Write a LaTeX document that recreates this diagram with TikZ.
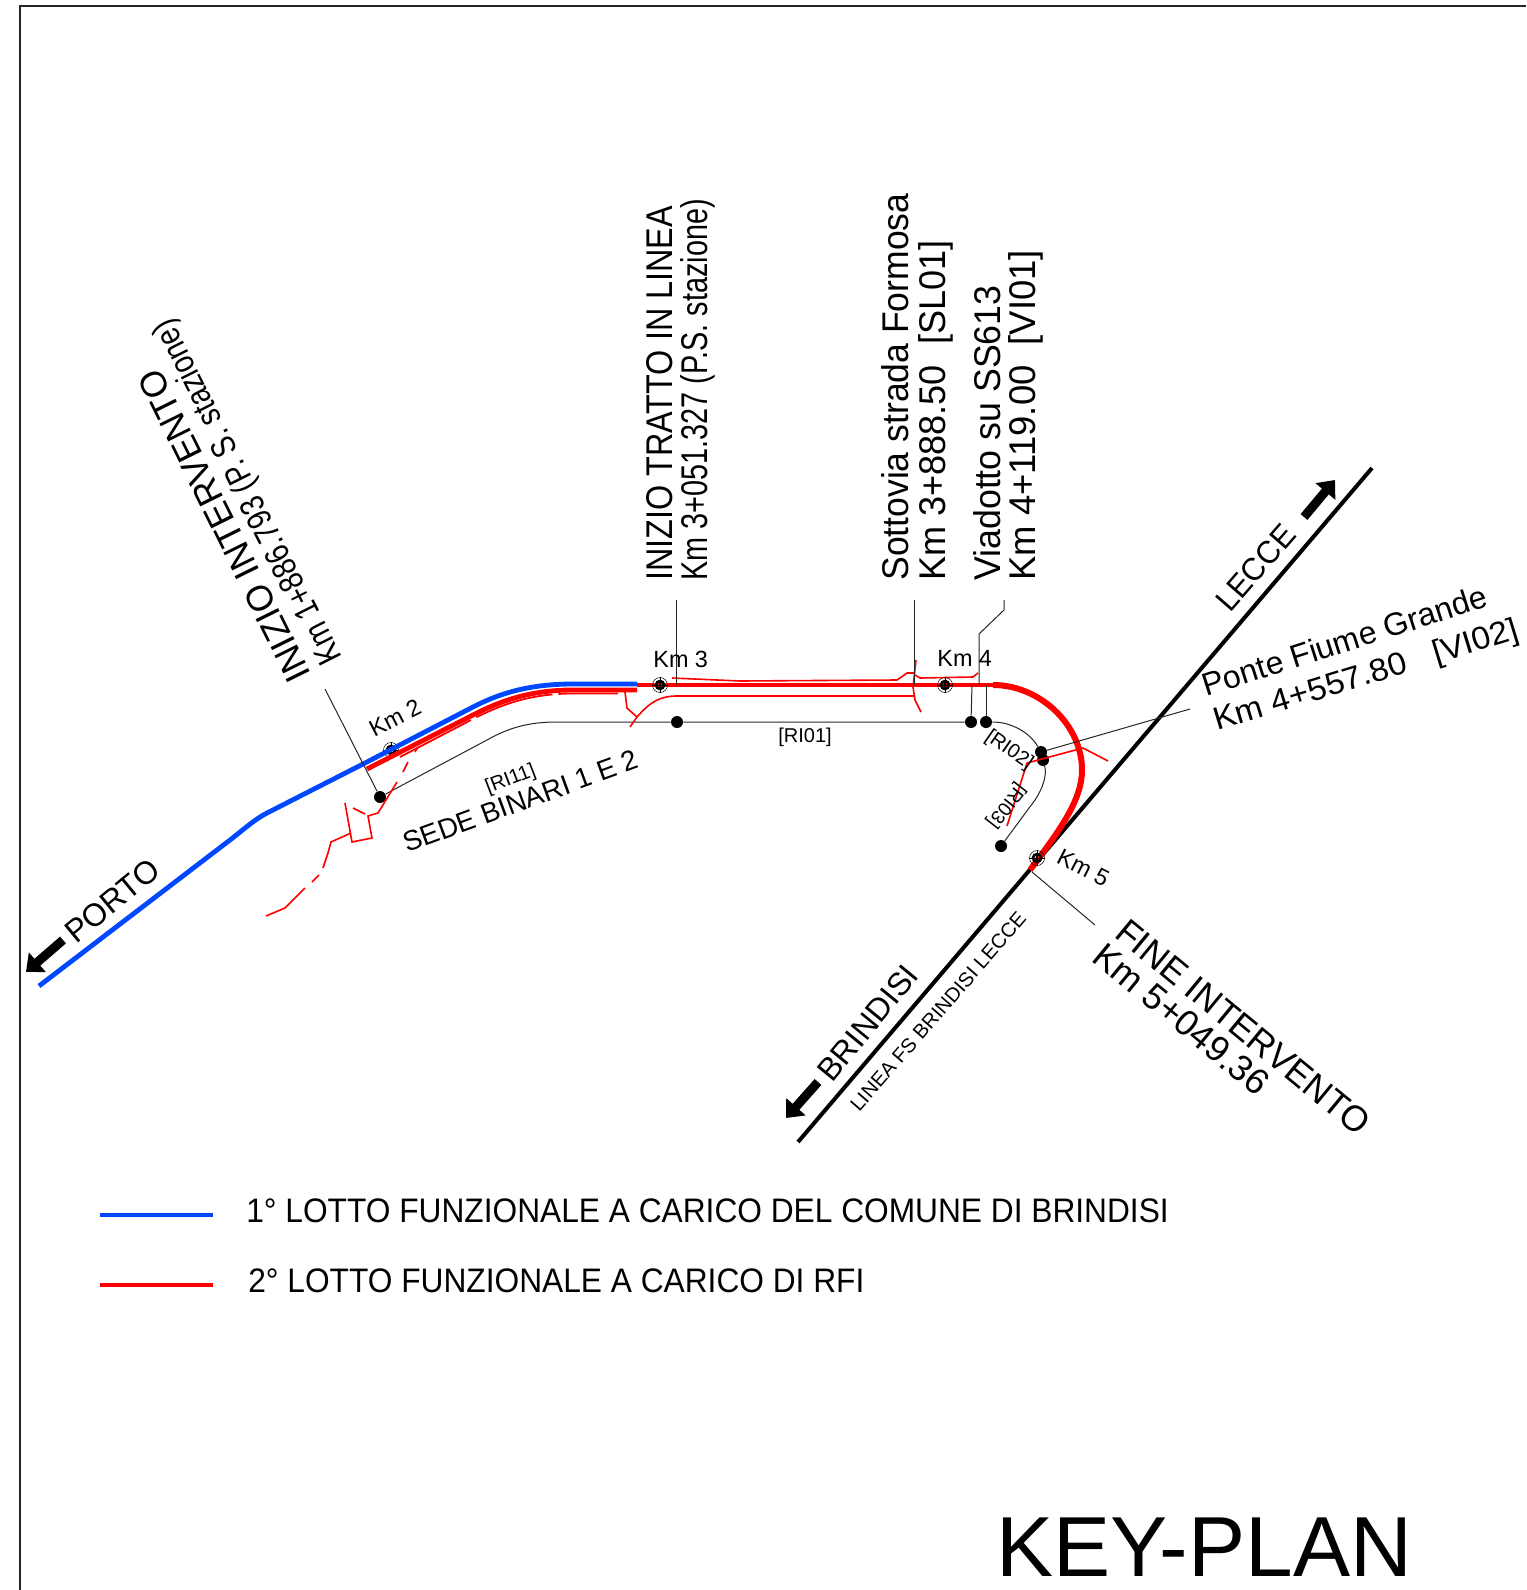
\documentclass[tikz,border=0pt]{standalone}
\usepackage{fontspec}
\setmainfont{Liberation Sans}
\usetikzlibrary{arrows.meta}

\definecolor{lottoblue}{RGB}{0,72,255}

\newcommand{\kmmark}[3]{%
    \node[kmring] (km-#1) at (#2,#3) {};
    \draw[line width=1.3pt] (km-#1) circle (2pt);
    \draw[line width=.25pt] (km-#1.north) -- (km-#1.south) (km-#1.west) -- (km-#1.east);
    \draw[line width=1.1pt] ([yshift=1.8pt]km-#1.center) -- ([yshift=-1.8pt]km-#1.center);
}

\begin{document}
\begin{tikzpicture}
% Style
[
    x=.5pt, y=-.5pt,
    frameline/.style={line width=1pt, black!85},
    railway/.style={line width=2pt, black},
    lotto1/.style={line width=2.4pt, lottoblue},
    lotto2/.style={line width=2.4pt, red},
    lotto2a/.style={line width=1.8pt, red},
    lotto2b/.style={line width=.8pt, red},
    axisline/.style={line width=.5pt, black!85},
    leader/.style={line width=.5pt, black!85},
    dot/.style={circle, fill=black, inner sep=0pt, minimum size=6pt},
    kmring/.style={circle, draw, line width=.25pt, inner sep=0pt, minimum size=7.5pt},
    bigarrow/.style={line width=4.5pt, -{Triangle[length=7.5pt, width=12.5pt]}},
    lbl/.style 2 args={anchor=base west, inner sep=0pt, font=\fontsize{#1}{#1}\selectfont, xscale=#2}
]
\useasboundingbox (0,0) rectangle (1526,1590);

%=================================== Frame ===================================
\draw[frameline] (20,1590) -- (20,6) -- (1526,6);

%================================== Railway ==================================
\draw[railway] (798,1142) -- (1372,468);
\draw[bigarrow] (63,940) -- (26,972);
\draw[bigarrow] (1304,517) -- (1335,480);
\draw[bigarrow] (818,1082) -- (786,1118);

%=================================== Axes ====================================
\foreach \n/\x/\y in {
    dot-11/380/797, dot-01/677/722, dot-4a/971/722, dot-4b/986/722,
    dot-02a/1041/752, dot-02b/1043/760, dot-03/1001/846
} {
    \node[dot] (\n) at (\x,\y) {};
}
\draw[axisline] (dot-11) -- (487,740) .. controls (510,727) and (530,722) .. (557,722)
    -- (dot-01) -- (dot-4a);
\draw[axisline] (dot-4b) .. controls (1012,722) and (1030,733) .. (dot-02a);
\draw[axisline] (dot-02b) .. controls (1047,775) and (1043,788) .. (1035,800) -- (dot-03);

\kmmark{2}{391}{750}

%=================================== Lotto 2 =================================
\draw[lotto2] (367,769) -- (473,715) .. controls (500,701) and (530,690) .. (573,690) -- (637,690);
\draw[lotto2a] (637,685) -- (993,685);
\draw[lotto2, line width=3pt] (993,685) .. controls (1040,685) and (1082,725) .. (1082,770)
    .. controls (1082,800) and (1060,830) .. (1030,870);
\draw[lotto2b, line width=.9pt, dash pattern=on 40pt off 3pt] (400,757) -- (473,719)
    .. controls (500,705) and (530,693.5) .. (573,693.5) -- (618,693.5);

% tracks beside the line
\draw[lotto2b] (672,678) -- (740,681) -- (897,680) -- (907,673) -- (915,673);
\draw[lotto2b] (630,727) -- (637,717) .. controls (650,702) and (660,696) .. (677,696) -- (915,696);
\draw[lotto2b] (916,660) -- (913,687) -- (915,700) -- (921,712);
\draw[lotto2b] (915,675) -- (920,678) -- (973,677) -- (978,673);
\draw[lotto2b] (625,692) -- (627,708) -- (637,717);

% connection to the west
\draw[lotto2b] (418,747) -- (415,752) (408,762) -- (403,772) (397,782) -- (378,813)
    -- (368,816) -- (372,838) -- (352,842) -- (345,803);
\draw[lotto2b] (353,808) -- (365,814);
\draw[lotto2b] (351,833) -- (331,842) -- (328,853) -- (323,868)
    (319,875) -- (312,882) (305,888) -- (285,908) -- (266,916);

% bridge
\draw[lotto2b] (1007,826) -- (1027,763) -- (1083,748) -- (1108,761);

%=================================== Lotto 1 =================================
\draw[lotto1] (39,986) -- (230,840) .. controls (243,830) and (255,819) .. (267,813)
    -- (365,763) -- (473,707) .. controls (500,693) and (530,684) .. (573,684) -- (637,684);

%================================== Leaders ==================================
\foreach \n/\x/\y in {
    lead-a/325/689, lead-b/676/600, lead-c/914/600, lead-d/1004/600,
    lead-e/1190/709, lead-f/1095/925, lead-g/1032/872
} {
    \coordinate (\n) at (\x,\y);
}
\kmmark{3}{660}{685}
\kmmark{4}{945}{685}
\kmmark{5}{1037}{858}
\draw[leader] (lead-a) -- (dot-11);
\draw[leader] (lead-b) -- (676,685);
\draw[leader] (lead-c) -- (914,685);
\draw[leader] (lead-d) -- (1004,610) -- (979,634) -- (979,685);
\draw[leader] (lead-e) -- (dot-02a);
\draw[leader] (lead-f) -- (lead-g);
\draw[leader] (972,685) -- (dot-4a);
\draw[leader] (986,685) -- (dot-4b);

%=================================== Labels ==================================
\node[rotate=116.3, lbl={18.2}{.98}] (lb-inizio) at (312,675) {INIZIO INTERVENTO};
\node[rotate=116.8, lbl={17.2}{.82}] (lb-inizio-km) at (343,658) {Km 1+886.793 (P. S. stazione)};
\node[rotate=90, lbl={18.6}{.87}] (lb-tratto) at (672,581) {INIZIO TRATTO IN LINEA};
\node[rotate=90, lbl={18.6}{.775}] (lb-tratto-km) at (707,581) {Km 3+051.327 (P.S. stazione)};
\node[rotate=90, lbl={18.6}{.955}] (lb-sl) at (908,581) {Sottovia strada Formosa};
\node[rotate=90, lbl={18.6}{.97}] (lb-sl-km) at (945,581) {Km 3+888.50\ \ [SL01]};
\node[rotate=90, lbl={18.6}{.96}] (lb-vi) at (1000,581) {Viadotto su SS613};
\node[rotate=90, lbl={18.6}{.98}] (lb-vi-km) at (1035,581) {Km 4+119.00\ \ [VI01]};
\node[rotate=17.8, lbl={16}{1.0}] (lb-ponte) at (1206,697) {Ponte Fiume Grande};
\node[rotate=17, lbl={16}{1.05}] (lb-ponte-km) at (1217,731) {Km 4+557.80\ \ \ [VI02]};
\node[rotate=-39.5, lbl={18}{.98}] (lb-fine) at (1113,936) {FINE INTERVENTO};
\node[rotate=-39.4, lbl={18}{1}] (lb-fine-km) at (1090,960) {Km 5+049.36};

\node[rotate=39.5, lbl={16}{.99}] (lb-porto) at (76,945) {PORTO};
\node[rotate=49, lbl={16}{.96}] (lb-lecce) at (1230,614) {LECCE};
\node[rotate=50.6, lbl={16}{1}] (lb-brindisi) at (832,1084) {BRINDISI};
\node[rotate=49, lbl={10}{1.01}] (lb-linea) at (859,1113) {LINEA FS BRINDISI LECCE};
\node[rotate=20.1, lbl={14}{.99}] (lb-sede) at (407,853) {SEDE BINARI 1 E 2};

\node[rotate=27, lbl={11.7}{1}] (lb-km2) at (374,738) {Km 2};
\node[lbl={11.7}{1}] (lb-km3) at (653,667) {Km 3};
\node[lbl={11.7}{1}] (lb-km4) at (937,666) {Km 4};
\node[rotate=-27, lbl={11.7}{1}] (lb-km5) at (1055,862) {Km 5};

\node[rotate=21, lbl={10}{1}] (lb-ri11) at (488,794) {[RI11]};
\node[lbl={10}{1}] (lb-ri01) at (778,742) {[RI01]};
\node[rotate=-35, lbl={10}{1}] (lb-ri02) at (984,739) {[RI02]};
\node[rotate=232, lbl={9.5}{1}] (lb-ri03) at (1018,782) {[RI03]};

%=================================== Legend ==================================
\coordinate (leg-1) at (100,1215);
\coordinate (leg-2) at (100,1285);
\draw[lotto1, line width=2pt] (leg-1) -- ++(113,0);
\draw[lotto2, line width=2pt] (leg-2) -- ++(113,0);
\node[lbl={17}{.932}] (lb-leg-1) at (246,1222) {1° LOTTO FUNZIONALE A CARICO DEL COMUNE DI BRINDISI};
\node[lbl={17}{.932}] (lb-leg-2) at (248,1292) {2° LOTTO FUNZIONALE A CARICO DI RFI};

\node[lbl={42.6}{1.005}] (lb-title) at (996,1576) {KEY-PLAN};
\end{tikzpicture}
\end{document}
